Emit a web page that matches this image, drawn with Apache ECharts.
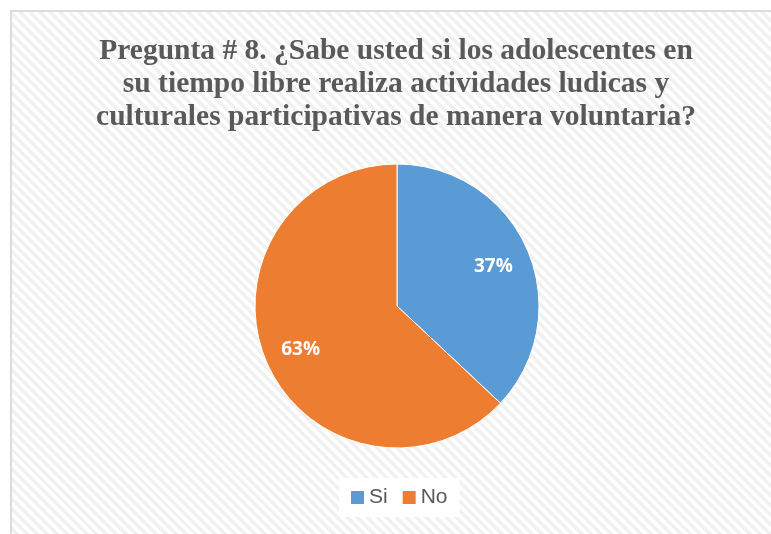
<!DOCTYPE html>
<html>
<head>
<meta charset="utf-8">
<script src="https://cdn.jsdelivr.net/npm/echarts@6/dist/echarts.min.js"></script>
<style>
  html, body { margin: 0; padding: 0; background: #ffffff; }
  #frame {
    position: absolute; left: 10px; top: 10px; width: 770px; height: 534px;
    border: 2px solid #dcdcdc;
    background: repeating-linear-gradient(45deg, #ffffff 0px, #ffffff 3.5px, #f1f1f1 3.5px, #f1f1f1 7px);
  }
  #chart { position: absolute; left: 0; top: 0; width: 771px; height: 534px; }
</style>
</head>
<body>
<div id="frame"></div>
<div id="chart"></div>
<script>
const titleText = 'Pregunta # 8. ¿Sabe usted si los adolescentes en\nsu tiempo libre realiza actividades ludicas y\nculturales participativas de manera voluntaria?';
const categories = ['Si', 'No'];
const percentages = [37, 63];
const sliceColors = ['#5b9bd5', '#ed7d31'];

const pieData = categories.map((name, i) => ({
  name: name,
  value: percentages[i],
  itemStyle: { color: sliceColors[i] }
}));

const chart = echarts.init(document.getElementById('chart'), null, { renderer: 'canvas' });
chart.setOption({
  backgroundColor: 'transparent',
  animation: false,
  title: {
    text: titleText,
    left: 391,
    textAlign: 'center',
    top: 30,
    textStyle: {
      fontFamily: '"Liberation Serif", "Times New Roman", serif',
      fontWeight: 'bold',
      fontSize: 29.5,
      lineHeight: 33,
      color: '#595959'
    }
  },
  legend: {
    data: categories,
    top: 478,
    left: 339,
    itemWidth: 13,
    itemHeight: 13,
    itemGap: 15,
    icon: 'rect',
    itemStyle: { borderWidth: 0 },
    backgroundColor: '#ffffff',
    padding: [9, 12],
    textStyle: {
      fontFamily: '"Liberation Sans", Arial, sans-serif',
      fontSize: 21,
      color: '#595959'
    }
  },
  series: [
    {
      type: 'pie',
      center: [397, 306],
      radius: [0, 142],
      startAngle: 90,
      clockwise: true,
      label: { show: false },
      labelLine: { show: false },
      itemStyle: { borderColor: '#ffffff', borderWidth: 1 },
      emphasis: { disabled: true },
      data: pieData
    },
    {
      // label ring: places the percentage text farther out than the slice midpoint
      type: 'pie',
      center: [397, 308],
      radius: [62, 142],
      startAngle: 90,
      clockwise: true,
      silent: true,
      itemStyle: { color: 'transparent' },
      label: {
        show: true,
        position: 'inside',
        formatter: '{c}%',
        color: '#ffffff',
        fontFamily: '"Open Sans", "Liberation Sans", sans-serif',
        fontWeight: 'bold',
        fontSize: 19
      },
      labelLine: { show: false },
      emphasis: { disabled: true },
      data: percentages.map((v, i) => ({ name: categories[i], value: v }))
    }
  ]
});
</script>
</body>
</html>
